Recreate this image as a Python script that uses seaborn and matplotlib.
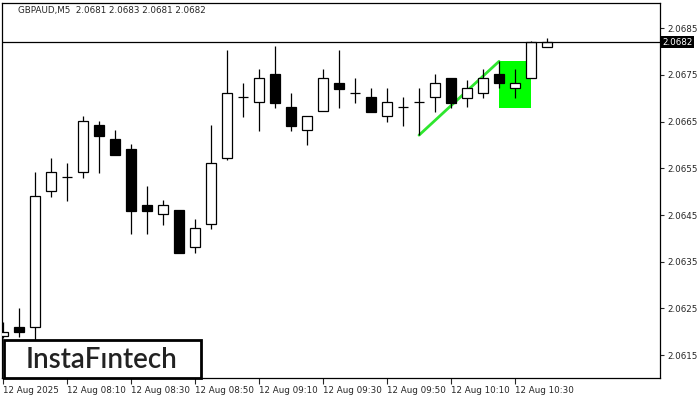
import numpy as np
import pandas as pd
import matplotlib.pyplot as plt
import matplotlib.transforms as mtransforms
from matplotlib.patches import Rectangle
import seaborn as sns

# GBPAUD M5 candles, 07:50 .. 10:40
opens = [2.06190, 2.06210, 2.06210, 2.06501, 2.06531, 2.06542, 2.06642, 2.06612, 2.06591, 2.06471,
         2.06452, 2.06460, 2.06381, 2.06430, 2.06572, 2.06702, 2.06692, 2.06752, 2.06681, 2.06632,
         2.06672, 2.06732, 2.06711, 2.06702, 2.06662, 2.06681, 2.06692, 2.06702, 2.06743, 2.06700,
         2.06711, 2.06752, 2.06722, 2.06743, 2.06810]
highs = [2.06220, 2.06251, 2.06542, 2.06572, 2.06561, 2.06662, 2.06651, 2.06632, 2.06602, 2.06512,
         2.06482, 2.06460, 2.06441, 2.06642, 2.06803, 2.06732, 2.06762, 2.06811, 2.06711, 2.06662,
         2.06762, 2.06803, 2.06743, 2.06722, 2.06722, 2.06702, 2.06722, 2.06752, 2.06743, 2.06739,
         2.06762, 2.06779, 2.06762, 2.06822, 2.06830]
lows = [2.06186, 2.06188, 2.06182, 2.06488, 2.06480, 2.06529, 2.06540, 2.06578, 2.06409, 2.06409,
        2.06428, 2.06368, 2.06368, 2.06420, 2.06567, 2.06659, 2.06629, 2.06679, 2.06629, 2.06600,
        2.06672, 2.06679, 2.06689, 2.06670, 2.06649, 2.06640, 2.06621, 2.06670, 2.06679, 2.06681,
        2.06700, 2.06722, 2.06700, 2.06743, 2.06810]
closes = [2.06199, 2.06199, 2.06490, 2.06542, 2.06531, 2.06651, 2.06619, 2.06578, 2.06458, 2.06458,
          2.06471, 2.06368, 2.06422, 2.06561, 2.06711, 2.06702, 2.06743, 2.06689, 2.06640, 2.06662,
          2.06743, 2.06719, 2.06711, 2.06670, 2.06692, 2.06681, 2.06692, 2.06732, 2.06689, 2.06722,
          2.06743, 2.06732, 2.06732, 2.06820, 2.06820]

tick_pos = [0, 4, 8, 12, 16, 20, 24, 28, 32]
tick_labels = ['12 Aug 2025', '12 Aug 08:10', '12 Aug 08:30', '12 Aug 08:50', '12 Aug 09:10',
               '12 Aug 09:30', '12 Aug 09:50', '12 Aug 10:10', '12 Aug 10:30']
price_ticks = [2.0615, 2.0625, 2.0635, 2.0645, 2.0655, 2.0665, 2.0675, 2.0685]
last_price = 2.0682
title = 'GBPAUD,M5  2.0681 2.0683 2.0681 2.0682'

# bullish flag pattern: pole from bar 26 low to bar 31 high, flag box bars 31..33
pole_x = [26, 31]
pole_y = [2.06621, 2.06779]
flag_x = [31, 33]
flag_y = [2.06679, 2.06779]

df = pd.DataFrame({'open': opens, 'high': highs, 'low': lows, 'close': closes})
df['idx'] = np.arange(len(df))

sns.set_style('white')
plt.rcParams['font.family'] = ['DejaVu Sans']

fig = plt.figure(figsize=(7, 4), dpi=100)
ax = fig.add_axes([2 / 700, 22 / 400, 658 / 700, 375 / 400])

ax.add_patch(Rectangle((flag_x[0], flag_y[0]), flag_x[1] - flag_x[0], flag_y[1] - flag_y[0],
                       facecolor='#00ff00', edgecolor='none', zorder=1))
sns.lineplot(x=pole_x, y=pole_y, color='#2ee62e', lw=2, ax=ax, zorder=2)

lw = 0.9
w = 0.62
ax.vlines(df['idx'], df['low'], df['high'], color='black', lw=lw, zorder=3)
up = df[df['close'] > df['open']]
down = df[df['close'] < df['open']]
flat = df[df['close'] == df['open']]
ax.bar(up['idx'], up['close'] - up['open'], bottom=up['open'], width=w,
       facecolor='white', edgecolor='black', linewidth=lw, zorder=4)
ax.bar(down['idx'], down['open'] - down['close'], bottom=down['close'], width=w,
       facecolor='black', edgecolor='black', linewidth=lw, zorder=4)
ax.hlines(flat['open'], flat['idx'] - w / 2, flat['idx'] + w / 2, color='black', lw=lw, zorder=4)

ax.axhline(last_price, color='black', lw=lw, zorder=5)

ax.set_xlim(-0.0625, 41.06)
ax.set_ylim(2.06101, 2.06904)

ax.set_xticks(tick_pos)
ax.set_xticklabels(tick_labels, ha='left')
ax.yaxis.tick_right()
ax.set_yticks(price_ticks)
ax.set_yticklabels([f'{p:.4f}' for p in price_ticks])
ax.tick_params(axis='x', length=4, width=0.8, labelsize=6.3, pad=2, bottom=True, direction='out')
ax.tick_params(axis='y', length=3, width=0.8, labelsize=6.3, pad=2, right=True, direction='out')
for s in ax.spines.values():
    s.set_color('black')
    s.set_linewidth(lw)

trans = mtransforms.blended_transform_factory(ax.transAxes, ax.transData)
ax.text(1.004, last_price, f'{last_price:.4f}', transform=trans, va='center', ha='left',
        fontsize=6.3, color='white', zorder=6,
        bbox=dict(boxstyle='square,pad=0.15', facecolor='black', edgecolor='none'))

fig.text(18 / 700, 1 - 11 / 400, title, fontsize=6.3, va='center', ha='left')

# logo box
fig.patches.append(Rectangle((4 / 700, 22 / 400), 197 / 700, 38 / 400, transform=fig.transFigure,
                             facecolor='white', edgecolor='black', lw=2, zorder=10))
fig.text(102 / 700, 1 - 360 / 400, 'InstaF\u0131ntech', fontsize=20, weight='semibold',
         family=['Lato', 'DejaVu Sans'], color='#222222', ha='center', va='center', zorder=11)

fig.savefig('out.png', dpi=100)
